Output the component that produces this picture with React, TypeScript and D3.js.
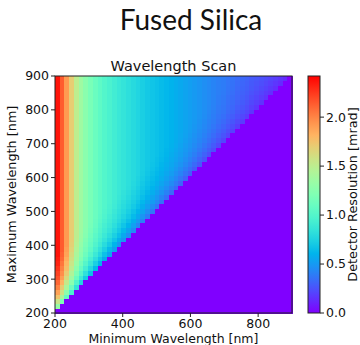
import React from "react";
import * as d3 from "d3";

// wavelength grid (nm): 50 cells of 14 nm from 200 to 900
const WL_START = 200;
const WL_STEP = 14;
const N_CELLS = 50;

// resolution (mrad) per minimum-wavelength column, read far from the diagonal
const columnResolution = [
  2.36, 2.14, 1.92, 1.7, 1.5, 1.36, 1.26, 1.18, 1.11, 1.05,
  1.0, 0.96, 0.92, 0.88, 0.85, 0.82, 0.79, 0.76, 0.73, 0.7,
  0.68, 0.66, 0.64, 0.62, 0.6, 0.58, 0.56, 0.54, 0.52, 0.5,
  0.48, 0.46, 0.44, 0.42, 0.4, 0.39, 0.37, 0.36, 0.34, 0.33,
  0.32, 0.3, 0.29, 0.28, 0.27, 0.26, 0.25, 0.24, 0.23, 0.22,
];

// damping of the resolution when max - min is only a few cells wide
const gapFactor = [0, 0.56, 0.66, 0.74, 0.8, 0.85, 0.89, 0.92, 0.94, 0.96, 0.98, 0.99];

const axisTicks = [200, 400, 600, 800];
const yTicks = [200, 300, 400, 500, 600, 700, 800, 900];
const colorTicks = [0, 0.5, 1.0, 1.5, 2.0];
const V_MAX = 2.42;

const MARGIN = { TOP: 76, LEFT: 55, RIGHT: 292, BOTTOM: 313 };
const CBAR = { X: 308, W: 12 };

// matplotlib "rainbow" colormap
const rainbow = (t: number) => {
  const r = Math.abs(2 * t - 0.5);
  const g = Math.sin(Math.PI * t);
  const b = Math.cos((Math.PI / 2) * t);
  const c = (v: number) => Math.round(Math.max(0, Math.min(1, v)) * 255);
  return `rgb(${c(r)},${c(g)},${c(b)})`;
};

const FONT = "DejaVu Sans, sans-serif";
const TICK_SIZE = 12.5;

export default function App() {
  const x = d3.scaleLinear().domain([200, 900]).range([MARGIN.LEFT, MARGIN.RIGHT]);
  const y = d3.scaleLinear().domain([200, 900]).range([MARGIN.BOTTOM, MARGIN.TOP]);
  const color = d3.scaleSequential(rainbow).domain([0, V_MAX]);
  const cy = d3.scaleLinear().domain([0, V_MAX]).range([MARGIN.BOTTOM, MARGIN.TOP]);

  const cells: { i: number; j: number; v: number }[] = [];
  d3.range(N_CELLS).forEach((j) => {
    d3.range(N_CELLS).forEach((i) => {
      const gap = j - i;
      const f = gap <= 0 ? 0 : gap < gapFactor.length ? gapFactor[gap] : 1;
      cells.push({ i, j, v: columnResolution[i] * f });
    });
  });

  const stops = d3.range(0, 1.0001, 0.05);
  const midX = (MARGIN.LEFT + MARGIN.RIGHT) / 2;
  const midY = (MARGIN.TOP + MARGIN.BOTTOM) / 2;

  return (
    <svg width={360} height={345} style={{ position: "absolute", left: 0, top: 0 }} fontFamily={FONT}>
      <rect width={360} height={345} fill="#fff" />
      <defs>
        <linearGradient id="cbar" x1="0" y1="1" x2="0" y2="0">
          {stops.map((s) => (
            <stop key={s} offset={s} stopColor={rainbow(s)} />
          ))}
        </linearGradient>
      </defs>
      <text x={191} y={30} textAnchor="middle" fontSize={28} fontFamily="Lato, sans-serif" fill="#111">
        Fused Silica
      </text>
      <text x={midX} y={71} textAnchor="middle" fontSize={14.5} fill="#111">
        Wavelength Scan
      </text>

      <g shapeRendering="crispEdges">
        {cells.map((d) => {
          const x0 = x(WL_START + d.i * WL_STEP);
          const x1 = x(WL_START + (d.i + 1) * WL_STEP);
          const y0 = y(WL_START + (d.j + 1) * WL_STEP);
          const y1 = y(WL_START + d.j * WL_STEP);
          return (
            <rect
              key={`${d.i}-${d.j}`}
              x={x0}
              y={y0}
              width={x1 - x0 + 0.5}
              height={y1 - y0 + 0.5}
              fill={color(d.v)}
            />
          );
        })}
      </g>
      <rect
        x={MARGIN.LEFT}
        y={MARGIN.TOP}
        width={MARGIN.RIGHT - MARGIN.LEFT}
        height={MARGIN.BOTTOM - MARGIN.TOP}
        fill="none"
        stroke="#222"
        strokeWidth={1}
      />

      {axisTicks.map((t) => (
        <g key={t} transform={`translate(${x(t)},${MARGIN.BOTTOM})`}>
          <line y2={4} stroke="#222" />
          <text y={14.5} textAnchor="middle" fontSize={TICK_SIZE} fill="#111">
            {t}
          </text>
        </g>
      ))}
      {yTicks.map((t) => (
        <g key={t} transform={`translate(${MARGIN.LEFT},${y(t)})`}>
          <line x2={-4} stroke="#222" />
          <text x={-6} dy="0.35em" textAnchor="end" fontSize={TICK_SIZE} fill="#111">
            {t}
          </text>
        </g>
      ))}
      <text x={midX} y={343} textAnchor="middle" fontSize={12.5} fill="#111">
        Minimum Wavelength [nm]
      </text>
      <text
        transform={`translate(16,${midY}) rotate(-90)`}
        textAnchor="middle"
        fontSize={12.8}
        fill="#111"
      >
        Maximum Wavelength [nm]
      </text>

      <rect
        x={CBAR.X}
        y={MARGIN.TOP}
        width={CBAR.W}
        height={MARGIN.BOTTOM - MARGIN.TOP}
        fill="url(#cbar)"
        stroke="#222"
        strokeWidth={1}
      />
      {colorTicks.map((t) => (
        <g key={t} transform={`translate(${CBAR.X + CBAR.W},${cy(t)})`}>
          <line x2={4} stroke="#222" />
          <text x={6} dy="0.35em" fontSize={TICK_SIZE} fill="#111">
            {t.toFixed(1)}
          </text>
        </g>
      ))}
      <text
        transform={`translate(357,${midY}) rotate(-90)`}
        textAnchor="middle"
        fontSize={12.8}
        fill="#111"
      >
        Detector Resolution [mrad]
      </text>
    </svg>
  );
}
